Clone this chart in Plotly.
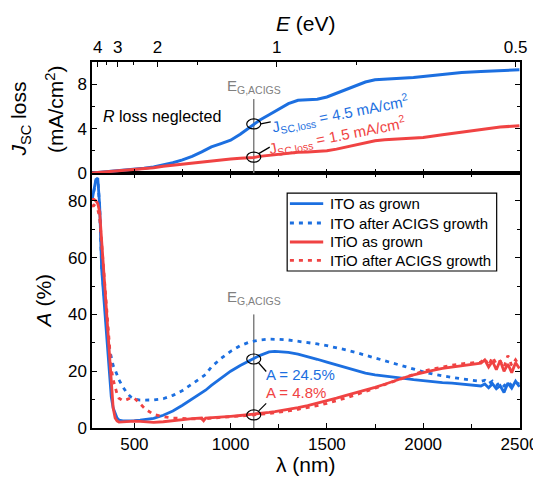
import plotly.graph_objects as go

# ---------------- data ----------------
BLUE = "#1C6FE0"
RED = "#F04343"
FONT = "Liberation Sans, Arial, Helvetica, sans-serif"

# top panel: cumulative Jsc loss (mA/cm^2)
wl_j = [280, 300, 350, 400, 450, 500, 550, 600, 650, 700, 750, 800, 850, 900, 950,
        1000, 1050, 1100, 1120, 1150, 1200, 1250, 1300, 1350, 1400, 1450, 1500, 1550,
        1600, 1650, 1700, 1750, 1800, 1850, 1900, 1950, 2000, 2100, 2200, 2300, 2400, 2500]
jsc_ito = [0, 0.03, 0.1, 0.17, 0.24, 0.33, 0.43, 0.55, 0.72, 0.93, 1.18, 1.5, 1.9, 2.35, 2.65,
           2.95, 3.5, 4.1, 4.4, 4.75, 5.25, 5.75, 6.25, 6.55, 6.6, 6.65, 6.85, 7.2,
           7.55, 7.9, 8.2, 8.4, 8.45, 8.45, 8.5, 8.6, 8.7, 8.9, 9.05, 9.15, 9.25, 9.3]
jsc_itio = [0, 0.03, 0.1, 0.16, 0.22, 0.3, 0.38, 0.47, 0.6, 0.7, 0.82, 0.92, 1.0, 1.1, 1.2,
            1.27, 1.33, 1.38, 1.4, 1.5, 1.6, 1.7, 1.8, 1.87, 1.9, 1.93, 2.0, 2.15,
            2.35, 2.55, 2.75, 2.9, 3.0, 3.05, 3.1, 3.15, 3.2, 3.45, 3.7, 3.95, 4.15, 4.25]

# bottom panel: absorptance (%)
wl = [280, 290, 300, 310, 320, 330, 340, 350, 360, 370, 380, 390, 400, 410, 420, 440, 460,
      480, 500, 530, 560, 600, 650, 700, 750, 800, 850, 860, 870, 900, 950, 1000, 1050,
      1100, 1120, 1150, 1200, 1230, 1250, 1300, 1350, 1400, 1450, 1500, 1550, 1600, 1650,
      1700, 1750, 1800, 1850, 1900, 1950, 2000, 2050, 2100, 2150, 2200, 2250, 2300, 2320,
      2340, 2360, 2380, 2400, 2420, 2440, 2460, 2480, 2500]
a_ito = [80, 84, 87.5, 88, 78, 56, 47, 38, 28, 18, 11, 7, 5, 3.5, 2.8, 2.5, 2.5,
         2.5, 2.6, 2.8, 3.0, 3.4, 4.5, 6, 8, 10.3, 12.5, 12.8, 13.3, 15, 17.5, 20, 22,
         24, 24.5, 25.5, 26.8, 27, 26.9, 26.6, 26.0, 25.2, 24.2, 23.2, 22.2, 21.2, 20.2,
         19.3, 18.7, 18.3, 18.1, 17.5, 17.0, 16.6, 16.3, 16.0, 15.8, 15.5, 15.2, 14.8, 15.5,
         14.2, 15.6, 13.8, 14.9, 12.5, 15.8, 14.0, 16.5, 14.5]
a_ito_after = [80, 84, 87, 87.5, 78, 57, 48, 40, 33, 28, 25, 22, 20.5, 18.5, 17, 14.5, 12.5,
               11, 10.2, 9.8, 9.8, 9.9, 10.3, 11.5, 13.2, 15.5, 17.8, 18.2, 18.8, 21.5, 24.5, 27, 29,
               30.3, 30.6, 31, 31.3, 31.3, 31.2, 31, 30.6, 30.2, 29.6, 29, 28.3, 27.5, 26.6,
               25.6, 24.6, 23.6, 22.6, 21.6, 20.7, 19.8, 19, 18.3, 17.8, 17.3, 16.8, 16.4, 16.8,
               15.6, 16.5, 15.0, 16.0, 14.8, 16.2, 15.0, 16.0, 15.5]
a_itio = [80.5, 80.5, 80, 79, 76, 66, 55, 45, 36, 26, 14, 7, 3.5, 2.5, 2.1, 2.2, 2.3,
          2.4, 2.4, 2.3, 2.1, 2.0, 2.2, 2.6, 3.0, 3.3, 3.5, 2.6, 3.5, 3.7, 3.9, 4.1, 4.4,
          4.7, 4.8, 5.1, 5.5, 5.8, 6.0, 6.6, 7.2, 7.9, 8.7, 9.6, 10.5, 11.5, 12.4,
          13.2, 14.3, 15.4, 16.6, 17.7, 18.7, 19.6, 20.3, 21.0, 21.5, 22.0, 22.5, 22.8, 24.0,
          21.5, 23.5, 20.5, 23.8, 20.0, 22.5, 19.5, 23.0, 21.0]
a_itio_after = [78, 78.5, 78, 77, 74, 65, 56, 47, 38, 28, 21, 17, 14, 12, 10.5, 9.6, 10,
                10.6, 10.5, 8.5, 6.5, 4.8, 4.0, 3.5, 3.3, 3.2, 3.3, 2.5, 3.3, 3.5, 3.8, 4.0, 4.2,
                4.4, 4.5, 4.8, 5.1, 5.3, 5.5, 6.0, 6.6, 7.2, 7.9, 8.7, 9.6, 10.6, 11.7,
                12.8, 14.0, 15.3, 16.5, 17.7, 18.9, 20.0, 20.8, 21.5, 22.1, 22.6, 23.0, 23.2, 24.5,
                22.0, 25.0, 22.5, 23.5, 21.5, 25.5, 22.0, 24.0, 22.0]

e_ticks = [4, 3, 2, 1, 0.5]
e_minor = [3.5, 2.5, 1.5, 0.75]
eg_wl = 1120

DOT = "4px,5px"
series = [
    ("ITO as grown", a_ito, BLUE, "solid"),
    ("ITO after ACIGS growth", a_ito_after, BLUE, DOT),
    ("ITiO as grown", a_itio, RED, "solid"),
    ("ITiO after ACIGS growth", a_itio_after, RED, DOT),
]

# ---------------- figure ----------------
fig = go.Figure()

fig.add_trace(go.Scatter(x=wl_j, y=jsc_ito, mode="lines", line=dict(color=BLUE, width=3),
                         xaxis="x2", yaxis="y2", showlegend=False))
fig.add_trace(go.Scatter(x=wl_j, y=jsc_itio, mode="lines", line=dict(color=RED, width=3),
                         xaxis="x2", yaxis="y2", showlegend=False))
# invisible copy so the top energy axis gets drawn
fig.add_trace(go.Scatter(x=wl_j, y=jsc_itio, mode="lines", line=dict(width=0), opacity=0,
                         xaxis="x3", yaxis="y2", showlegend=False, hoverinfo="skip"))

for name, ys, col, dash in series:
    fig.add_trace(go.Scatter(x=wl, y=ys, mode="lines", name=name,
                             line=dict(color=col, width=2.8, dash=dash),
                             xaxis="x", yaxis="y", showlegend=False))

XR = [280, 2503]
split = 0.6967


def ax(**kw):
    d = dict(showline=True, linecolor="black", linewidth=1.5, ticks="inside",
             tickcolor="black", tickwidth=1.2, ticklen=5, showgrid=False, zeroline=False,
             automargin=False, tickfont=dict(size=17, color="black", family=FONT))
    d.update(kw)
    return d


# the page body has an 8px margin, so the figure is 8px smaller and margins shifted
fig.update_layout(
    template="none",
    width=533, height=469,
    margin=dict(l=84, r=21, t=54, b=49),
    paper_bgcolor="white", plot_bgcolor="white",
    font=dict(family=FONT, color="black"),
    showlegend=False,
    xaxis=ax(domain=[0, 1], range=XR, anchor="y", tickmode="linear", tick0=500,
             dtick=500, mirror="ticks",
             minor=dict(dtick=250, tick0=0, ticks="inside", ticklen=4, tickcolor="black")),
    yaxis=ax(domain=[0, split], range=[0, 89.8], anchor="x", tickmode="linear",
             tick0=0, dtick=20, mirror="ticks",
             minor=dict(dtick=10, ticks="inside", ticklen=3, tickcolor="black")),
    xaxis2=ax(domain=[0, 1], range=XR, anchor="y2", tickmode="linear", tick0=0,
              dtick=250, showticklabels=False, ticklen=4),
    yaxis2=ax(domain=[split, 1], range=[0, 10], anchor="x2", tickmode="linear",
              tick0=0, dtick=4, mirror="ticks",
              minor=dict(dtick=2, ticks="inside", ticklen=3, tickcolor="black")),
    xaxis3=ax(range=XR, overlaying="x2", anchor="y2", side="top",
              tickmode="array", tickvals=[1240 / e for e in e_ticks],
              ticktext=[str(e) for e in e_ticks],
              minor=dict(tickvals=[1240 / e for e in e_minor], ticks="inside", ticklen=3,
                         tickcolor="black")),
)

GRAY = "#808080"
shapes = [
    dict(type="line", xref="x2", yref="y2", x0=eg_wl, x1=eg_wl, y0=0, y1=6.66,
         line=dict(color=GRAY, width=1.5), layer="below"),
    dict(type="line", xref="x", yref="y", x0=eg_wl, x1=eg_wl, y0=0, y1=40,
         line=dict(color=GRAY, width=1.5), layer="below"),
]
# ellipses
for xr, yr, yc in [("x2", "y2", 4.42), ("x2", "y2", 1.43), ("x", "y", 24.3), ("x", "y", 4.6)]:
    shapes.append(dict(type="circle", xref=xr, yref=yr, xsizemode="pixel", ysizemode="pixel",
                       xanchor=eg_wl, yanchor=yc, x0=-7, x1=7, y0=-5, y1=5,
                       line=dict(color="black", width=1.2)))
# leader lines
for xr, yr, yc, (ax0, ay0, ax1, ay1) in [
    ("x2", "y2", 4.42, (7, 0, 17, 2)),
    ("x2", "y2", 1.43, (5, 3.5, 16, 10)),
    ("x", "y", 24.3, (5, -4, 12.5, -12.5)),
    ("x", "y", 4.6, (5, 4, 12.5, 11.5)),
]:
    shapes.append(dict(type="line", xref=xr, yref=yr, xsizemode="pixel", ysizemode="pixel",
                       xanchor=eg_wl, yanchor=yc, x0=ax0, y0=ay0, x1=ax1, y1=ay1,
                       line=dict(color="black", width=1.2)))

# legend box (drawn in plot-area fractions)
LEG_X0, LEG_X1, LEG_Y0, LEG_Y1 = 0.456, 0.9455, 0.429, 0.642
LEG_ROWS = [0.6131, 0.5601, 0.5082, 0.4582]
shapes.append(dict(type="rect", xref="paper", yref="paper", x0=LEG_X0, x1=LEG_X1,
                   y0=LEG_Y0, y1=LEG_Y1, line=dict(color="black", width=1.2),
                   fillcolor="white", layer="above"))
for (name, _, col, dash), yy in zip(series, LEG_ROWS):
    shapes.append(dict(type="line", xref="paper", yref="paper", x0=0.4624, x1=0.5402,
                       y0=yy, y1=yy, line=dict(color=col, width=2.8, dash=dash)))
fig.update_layout(shapes=shapes)

ann = [
    dict(xref="x2", yref="y2", x=eg_wl, y=6.8, text="E<sub>G,ACIGS</sub>", yanchor="bottom",
         font=dict(size=15, color=GRAY)),
    dict(xref="x", yref="y", x=eg_wl, y=42, text="E<sub>G,ACIGS</sub>", yanchor="bottom",
         font=dict(size=15, color=GRAY)),
    dict(xref="x2", yref="y2", x=646, y=5.1, text="<i>R</i> loss neglected",
         font=dict(size=16, color="black")),
    dict(xref="x2", yref="y2", x=1570, y=5.32, textangle=-11,
         text="J<sub>SC,loss</sub> = 4.5 mA/cm<sup>2</sup>", font=dict(size=15, color=BLUE)),
    dict(xref="x2", yref="y2", x=1552, y=3.37, textangle=-11,
         text="J<sub>SC,loss</sub> = 1.5 mA/cm<sup>2</sup>", font=dict(size=15, color=RED)),
    dict(xref="x", yref="y", x=1361, y=18.9, text="A = 24.5%", font=dict(size=15, color=BLUE)),
    dict(xref="x", yref="y", x=1339, y=12.4, text="A = 4.8%", font=dict(size=15, color=RED)),
    # axis titles
    dict(xref="paper", yref="paper", x=0.5, y=1.106, text="<i>E</i> (eV)",
         font=dict(size=21, color="black")),
    dict(xref="paper", yref="paper", x=0.5, y=-0.099, text="λ (nm)",
         font=dict(size=21, color="black")),
    dict(xref="paper", yref="paper", x=-0.1127, y=0.348, text="<i>A</i> (%)", textangle=-90,
         font=dict(size=21, color="black")),
    dict(xref="paper", yref="paper", x=-0.167, y=0.844, text="<i>J</i><sub>SC</sub> loss",
         textangle=-90, font=dict(size=21, color="black")),
    dict(xref="paper", yref="paper", x=-0.087, y=0.871, text="(mA/cm<sup>2</sup>)",
         textangle=-90, font=dict(size=21, color="black")),
]
for a in ann:
    a.setdefault("xanchor", "center")
    a.setdefault("yanchor", "middle")
# legend labels
for (name, _, col, dash), yy in zip(series, LEG_ROWS):
    ann.append(dict(xref="paper", yref="paper", x=0.5512, y=yy, text=name, xanchor="left",
                    yanchor="middle", font=dict(size=15, color="black")))
for a in ann:
    a["showarrow"] = False
    a["font"]["family"] = FONT
fig.update_layout(annotations=ann)

fig.write_html("out.html")
